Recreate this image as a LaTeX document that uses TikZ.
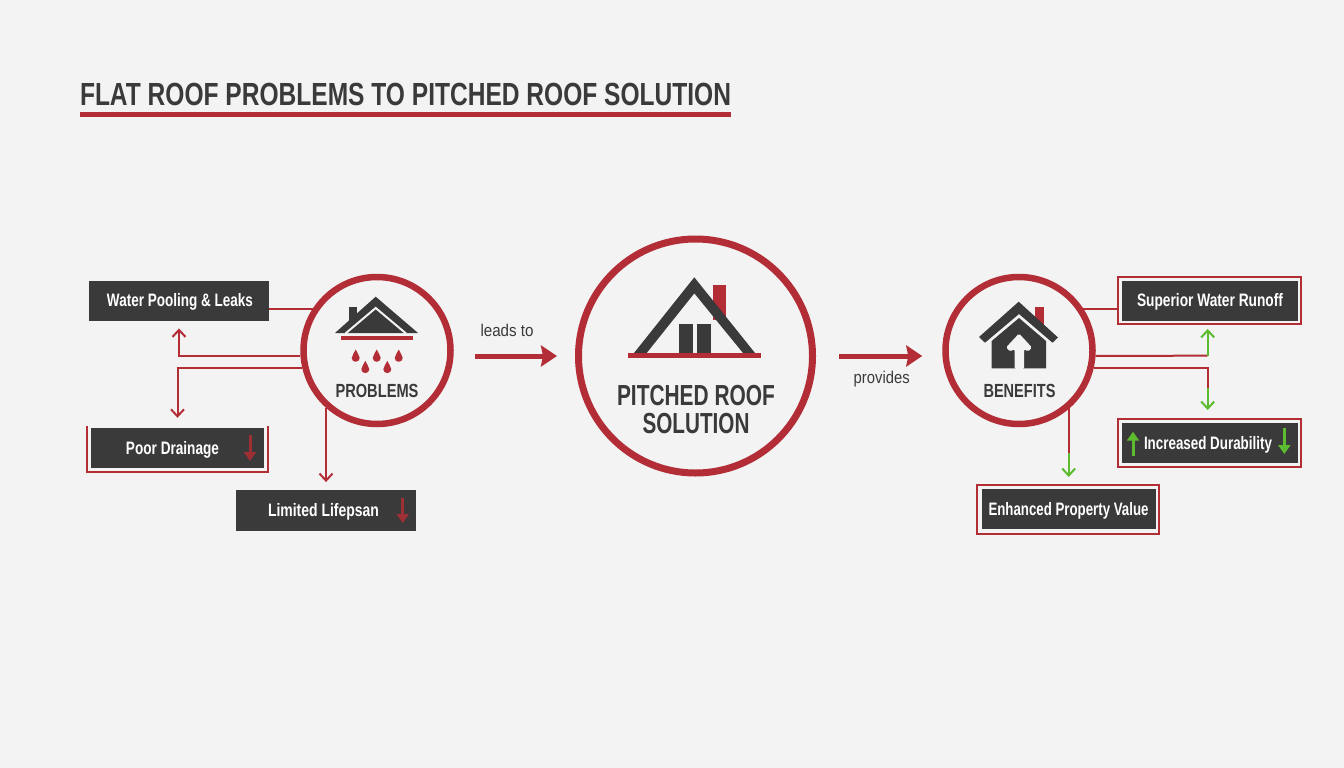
\documentclass[tikz,border=0pt]{standalone}
\usepackage{fontspec}
\setmainfont{Liberation Sans}
\usetikzlibrary{arrows.meta}
\definecolor{bg}{HTML}{F3F3F3}
\definecolor{rd}{HTML}{B22D36}
\definecolor{dk}{HTML}{3A3A3A}
\definecolor{gn}{HTML}{5CBB2E}
\definecolor{dimred}{HTML}{9E2F35}
\newcommand{\fitw}[3]{\resizebox{#1pt}{\height}{\fontsize{#2pt}{#2pt}\selectfont #3}}
\newcommand{\fitb}[3]{\resizebox{#1pt}{\height}{\fontsize{#2pt}{#2pt}\selectfont\bfseries #3}}
\tikzset{
  ring/.style={circle,draw=rd,fill=bg,inner sep=0pt},
  smallring/.style={ring,line width=6.5pt,minimum size=147pt},
  bigring/.style={ring,line width=7pt,minimum size=234pt},
  box/.style={rectangle,fill=dk,text=white,inner sep=0pt},
  frame/.style={rectangle,draw=rd,line width=2pt,inner sep=0pt},
  label/.style={inner sep=0pt,text=dk},
  boxtext/.style={inner sep=0pt,text=white},
  conn/.style={draw=rd,line width=2pt},
  barb/.style={-{Straight Barb[length=7pt,width=13pt,line width=2pt]}},
  gconn/.style={draw=gn,line width=2pt,barb},
  rconn/.style={conn,barb},
  bigarrow/.style={draw=rd,line width=5pt,-{Stealth[length=16pt,width=21pt,inset=2pt]}},
  tipred/.style={draw=dimred,line width=3pt,-{Triangle[length=9pt,width=12pt]}},
  tipgreen/.style={draw=gn,line width=3pt,-{Triangle[length=9pt,width=12pt]}},
}
\begin{document}
\begin{tikzpicture}[x=1pt,y=-1pt]
\useasboundingbox[fill=bg] (0,0) rectangle (1344,768);

% Title
\node[label,anchor=center] (title) at (405.5,94) {\fitb{651}{32}{FLAT ROOF PROBLEMS TO PITCHED ROOF SOLUTION}};
\fill[rd] (80,112) rectangle (731,116.5);

% Problem boxes
\node[box,minimum width=180pt,minimum height=40.5pt] (wp) at (179,301) {};
\node[boxtext] (wpt) at (180,302) {\fitb{146}{18}{Water Pooling \& Leaks}};
\node[box,minimum width=173.5pt,minimum height=40pt] (pd) at (177.5,448) {};
\node[boxtext] (pdt) at (172.5,450) {\fitb{93}{18}{Poor Drainage}};
\node[box,minimum width=180.5pt,minimum height=40.5pt] (ll) at (326,510.5) {};
\node[boxtext] (llt) at (323.5,512) {\fitb{111}{18}{Limited Lifepsan}};
\draw[conn] (87,426) -- (87,472) -- (268,472) -- (268,426);
\draw[tipred] (250,435) -- (250,461);
\draw[tipred] (402.7,498) -- (402.7,523);

% Rings
\node[smallring] (prob) at (377,350.5) {};
\node[bigring] (sol) at (695.5,356) {};
\node[smallring] (ben) at (1019,350.5) {};

% Problem connectors
\draw[conn] (prob.147) -- (prob.147 -| wp.east);
\draw[rconn,shorten >=7pt] (prob.184) -| (wp.south);
\draw[rconn,shorten >=10pt] (prob.193) -| (pd.north);
\draw[rconn,shorten >=8pt] (prob.228 -| ll.north) -- (ll.north);

% Problems icon
\fill[rd] (340.7,336) rectangle (412.7,340);
\fill[dk] (349,306.5) rectangle (357,322);
\fill[dk] (335,333) -- (375.7,296.7) -- (418,333) -- cycle;
\draw[bg,line width=2pt,line join=miter] (345.5,333.5) -- (375.7,308) -- (406,333.5);
\foreach \px/\py in {355.7/356,376.7/356,398.7/356,365.3/367.3,387.3/367.3}{
  \fill[rd,shift={(\px,\py)}] (0,-6.5) .. controls (-1,-3) and (-4,-1) .. (-4,2)
     .. controls (-4,7) and (4,7) .. (4,2) .. controls (4,-1) and (1,-3) .. (0,-6.5) -- cycle;
}
\node[label] (probt) at (377,390.5) {\fitb{83}{19}{PROBLEMS}};

% Solution icon
\fill[rd] (712.7,285) rectangle (725.7,320);
\fill[dk] (634,353) -- (694.3,277.3) -- (755,353) -- (743,353) -- (694.3,293.3) -- (646.7,353) -- cycle;
\fill[dk] (678.7,324) rectangle (692.7,353);
\fill[dk] (697.3,324) rectangle (710.7,353);
\fill[rd] (628,353) rectangle (761,358.3);
\node[label] (solt1) at (696,395.5) {\fitb{158}{29}{PITCHED ROOF}};
\node[label] (solt2) at (696,423.5) {\fitb{107}{29}{SOLUTION}};

% Main arrows
\draw[bigarrow,shorten <=21pt,shorten >=18pt] (prob.east |- sol.west) -- (sol.west);
\draw[bigarrow,shorten <=23pt,shorten >=20pt] (sol.east) -- (ben.west |- sol.east);
\node[label] (lt) at (507,330.5) {\fitb{53}{17}{\mdseries leads to}};
\node[label] (pv) at (881.7,379.5) {\fitb{56}{17}{\mdseries provides}};

% Benefits icon
\fill[rd] (1035,307) rectangle (1044,325);
\fill[dk] (979,337) -- (1018.7,301.7) -- (1058,337.5) -- (1052.5,342.7) -- (1019,314) -- (985,342.7) -- cycle;
\fill[dk] (991.7,341) -- (1019,318) -- (1046,341) -- (1046,368.3) -- (991.7,368.3) -- cycle;
\fill[bg,rounded corners=1.5pt] (1014.5,369) -- (1014.5,349) -- (1010,351.5) -- (1006,347.5) -- (1019,333.5) -- (1032,347.5) -- (1028,351.5) -- (1024,349) -- (1024,369) -- cycle;
\node[label] (bent) at (1019.5,390.5) {\fitb{72}{19}{BENEFITS}};

% Benefit boxes
\node[frame,minimum width=182.7pt,minimum height=47.3pt] (swrf) at (1209.7,300.3) {};
\node[box,minimum width=176pt,minimum height=40pt] (swr) at (1210,300.7) {};
\node[boxtext] (swrt) at (1210,302) {\fitb{146}{18}{Superior Water Runoff}};
\node[frame,minimum width=183.3pt,minimum height=48pt] (idf) at (1209.4,443) {};
\node[box,minimum width=176pt,minimum height=40.6pt] (id) at (1210,443) {};
\node[boxtext] (idt) at (1208,444.5) {\fitb{128}{18}{Increased Durability}};
\node[frame,minimum width=182pt,minimum height=48.7pt] (epf) at (1068.3,509.3) {};
\node[box,minimum width=174pt,minimum height=40.6pt] (ep) at (1068.7,509) {};
\node[boxtext] (ept) at (1068.5,511) {\fitb{160}{18}{Enhanced Property Value}};
\draw[tipgreen] (1133,456) -- (1133,431.7);
\draw[tipgreen] (1284.3,428) -- (1284.3,454);

% Benefit connectors
\coordinate (t1) at (1207.7,355.7);
\coordinate (t2) at (1207.7,388);
\coordinate (t3) at (1068.7,453);
\draw[conn] (ben.33) -- (ben.33 -| swrf.west);
\draw[conn] (ben.356) -- (t1);
\draw[gconn,shorten >=4pt] (t1) -- (t1 |- swrf.south);
\draw[conn] (ben.347) -| (t2);
\draw[gconn,shorten >=8pt] (t2) -- (t2 |- idf.north);
\draw[conn] (ben.312 -| t3) -- (t3);
\draw[gconn,shorten >=7pt] (t3) -- (t3 |- epf.north);
\end{tikzpicture}
\end{document}
